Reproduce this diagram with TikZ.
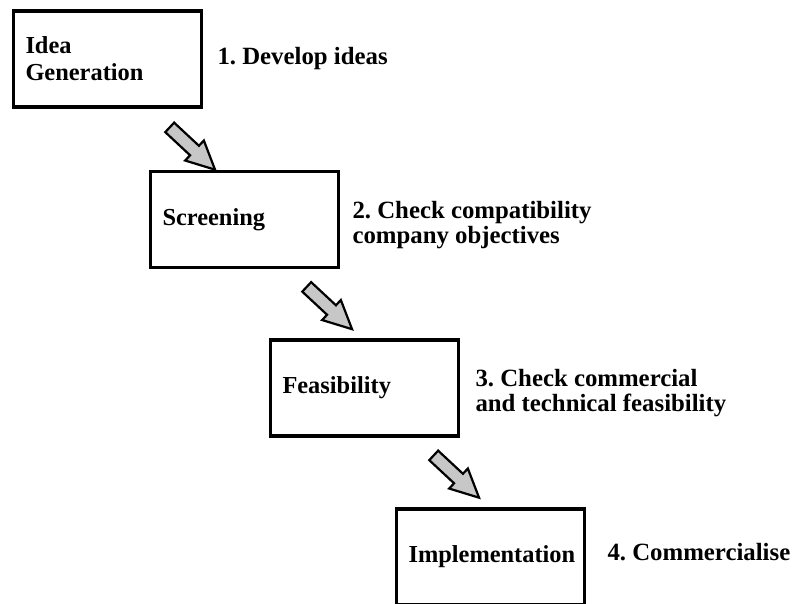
\documentclass[tikz,border=0pt]{standalone}
\usepackage{fontspec}
\setmainfont{Liberation Serif}
\usetikzlibrary{shapes.arrows, positioning}
\frenchspacing

\begin{document}
\begin{tikzpicture}[x=0.5pt, y=-0.5pt,
    stagebox/.style={draw, line width=1.6pt, minimum width=94pt, minimum height=48pt,
        text width=82pt, inner xsep=6pt, align=left,
        font=\bfseries\fontsize{12.2}{13.5}\selectfont},
    stepnote/.style={inner sep=0pt, align=left,
        font=\bfseries\fontsize{12.4}{12.5}\selectfont},
    flowarrow/.style={single arrow, draw, line width=1.1pt, fill=black!22,
        minimum height=31pt, inner sep=2.7pt, single arrow head extend=3.6pt,
        single arrow tip angle=52, rotate=-43}]
    \useasboundingbox (0,0) rectangle (795,603);

    % Stages
    \node[stagebox] (idea) at (107.5,59) {Idea\\Generation};
    \node[stagebox] (screening) at (244.5,219.5) {Screening};
    \node[stagebox] (feasibility) at (364.5,388) {Feasibility};
    \node[stagebox] (implementation) at (490.5,557) {Implementation};

    % Notes next to the stages
    \node[stepnote, right=7pt of idea] (note1) {1. Develop ideas};
    \node[stepnote, right=6pt of screening, yshift=-3pt] (note2) {2. Check compatibility\\company objectives};
    \node[stepnote, right=7.5pt of feasibility, yshift=-2.5pt] (note3) {3. Check commercial\\and technical feasibility};
    \node[stepnote, right=10.5pt of implementation, yshift=2.5pt] (note4) {4. Commercialise};

    % Block arrows between stages
    \node[flowarrow] (arr1) at (187.5,144) {};
    \node[flowarrow] (arr2) at (324.5,303.5) {};
    \node[flowarrow] (arr3) at (451.5,472) {};

\end{tikzpicture}
\end{document}
